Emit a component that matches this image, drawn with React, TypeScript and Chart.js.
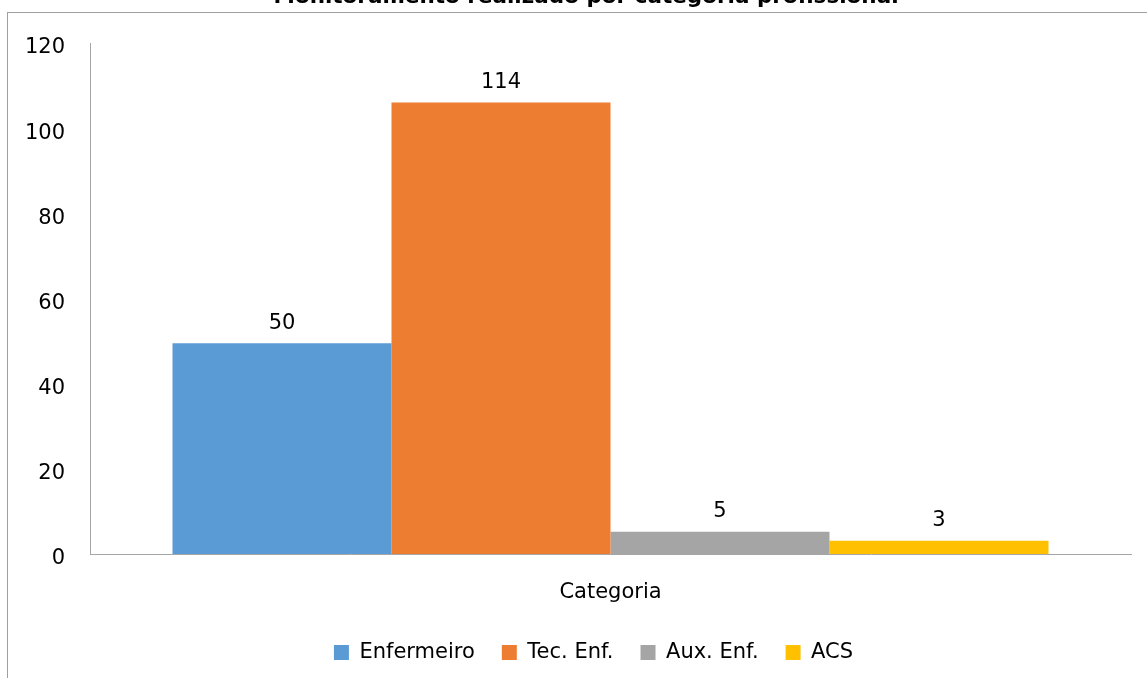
import React, { useEffect, useRef } from 'react';
import { Chart, registerables } from 'chart.js';

Chart.register(...registerables);

const chartTitle = 'Monitoramento realizado por categoria profissional';
const categories = ['Categoria'];
const seriesNames = ['Enfermeiro', 'Tec. Enf.', 'Aux. Enf.', 'ACS'];
const seriesValues = [49.5, 106, 5.2, 3.1];
const valueLabels = ['50', '114', '5', '3'];
const seriesColors = ['#5B9BD5', '#ED7D31', '#A5A5A5', '#FFC000'];
const yMin = 0;
const yMax = 120;
const yStep = 20;

const FONT = "'DejaVu Sans', sans-serif";
const FONT_SIZE = 21;
const TEXT = '#000000';
const AXIS = '#a6a6a6';

const framePlugin = {
  id: 'frame',
  beforeDraw(chart: any) {
    const ctx = chart.ctx;
    ctx.save();
    ctx.fillStyle = '#ffffff';
    ctx.fillRect(0, 0, chart.width, chart.height);
    ctx.strokeStyle = '#9f9f9f';
    ctx.lineWidth = 1;
    ctx.strokeRect(7.5, 12.5, 3000, 3000);
    ctx.fillStyle = TEXT;
    ctx.font = `bold 21.5px ${FONT}`;
    ctx.textAlign = 'center';
    ctx.textBaseline = 'alphabetic';
    ctx.fillText(chartTitle, 586, 3);
    ctx.restore();
  },
};

const legendShiftPlugin = {
  id: 'legendShift',
  afterLayout(chart: any) {
    if (chart.legend) {
      chart.legend.left = 56;
      chart.legend.right = 1131;
    }
  },
};

const valueLabelPlugin = {
  id: 'valueLabels',
  afterDatasetsDraw(chart: any) {
    const ctx = chart.ctx;
    ctx.save();
    ctx.fillStyle = TEXT;
    ctx.font = `${FONT_SIZE}px ${FONT}`;
    ctx.textAlign = 'center';
    ctx.textBaseline = 'middle';
    chart.data.datasets.forEach((_ds: any, i: number) => {
      const meta = chart.getDatasetMeta(i);
      meta.data.forEach((el: any) => {
        ctx.fillText(valueLabels[i], el.x, el.y - 20);
      });
    });
    ctx.restore();
  },
};

export default function App() {
  const ref = useRef<HTMLCanvasElement | null>(null);

  useEffect(() => {
    if (!ref.current) return;
    const chart = new Chart(ref.current, {
      type: 'bar',
      data: {
        labels: categories,
        datasets: seriesNames.map((name, i) => ({
          label: name,
          data: [seriesValues[i]],
          backgroundColor: seriesColors[i],
          borderWidth: 0,
          categoryPercentage: 0.8415,
          barPercentage: 1,
        })),
      },
      options: {
        responsive: false,
        animation: false,
        devicePixelRatio: 1,
        layout: { padding: { left: 0, right: 16, top: 43, bottom: 5 } },
        plugins: {
          title: { display: false },
          tooltip: { enabled: false },
          legend: {
            display: true,
            position: 'bottom',
            labels: {
              boxWidth: 15,
              boxHeight: 15,
              padding: 27,
              color: TEXT,
              font: { family: FONT, size: FONT_SIZE },
            },
          },
        },
        scales: {
          x: {
            grid: { display: false, drawTicks: false },
            border: { display: true, color: AXIS, width: 1 },
            ticks: { color: TEXT, font: { family: FONT, size: FONT_SIZE }, padding: 26 },
            afterFit(scale: any) {
              scale.height = 61;
            },
          },
          y: {
            min: yMin,
            max: yMax,
            grid: { display: false, drawTicks: false },
            border: { display: true, color: AXIS, width: 1 },
            ticks: {
              stepSize: yStep,
              color: TEXT,
              font: { family: FONT, size: FONT_SIZE },
              padding: 25,
              labelOffset: 5,
            },
            afterFit(scale: any) {
              scale.width = 90;
            },
          },
        },
      },
      plugins: [framePlugin, legendShiftPlugin, valueLabelPlugin],
    } as any);
    return () => chart.destroy();
  }, []);

  return (
    <div
      style={{
        position: 'fixed',
        left: 0,
        top: 0,
        width: 1147,
        height: 678,
        overflow: 'hidden',
        background: '#ffffff',
      }}
    >
      <canvas ref={ref} width={1147} height={678} style={{ display: 'block', width: 1147, height: 678 }} />
    </div>
  );
}
